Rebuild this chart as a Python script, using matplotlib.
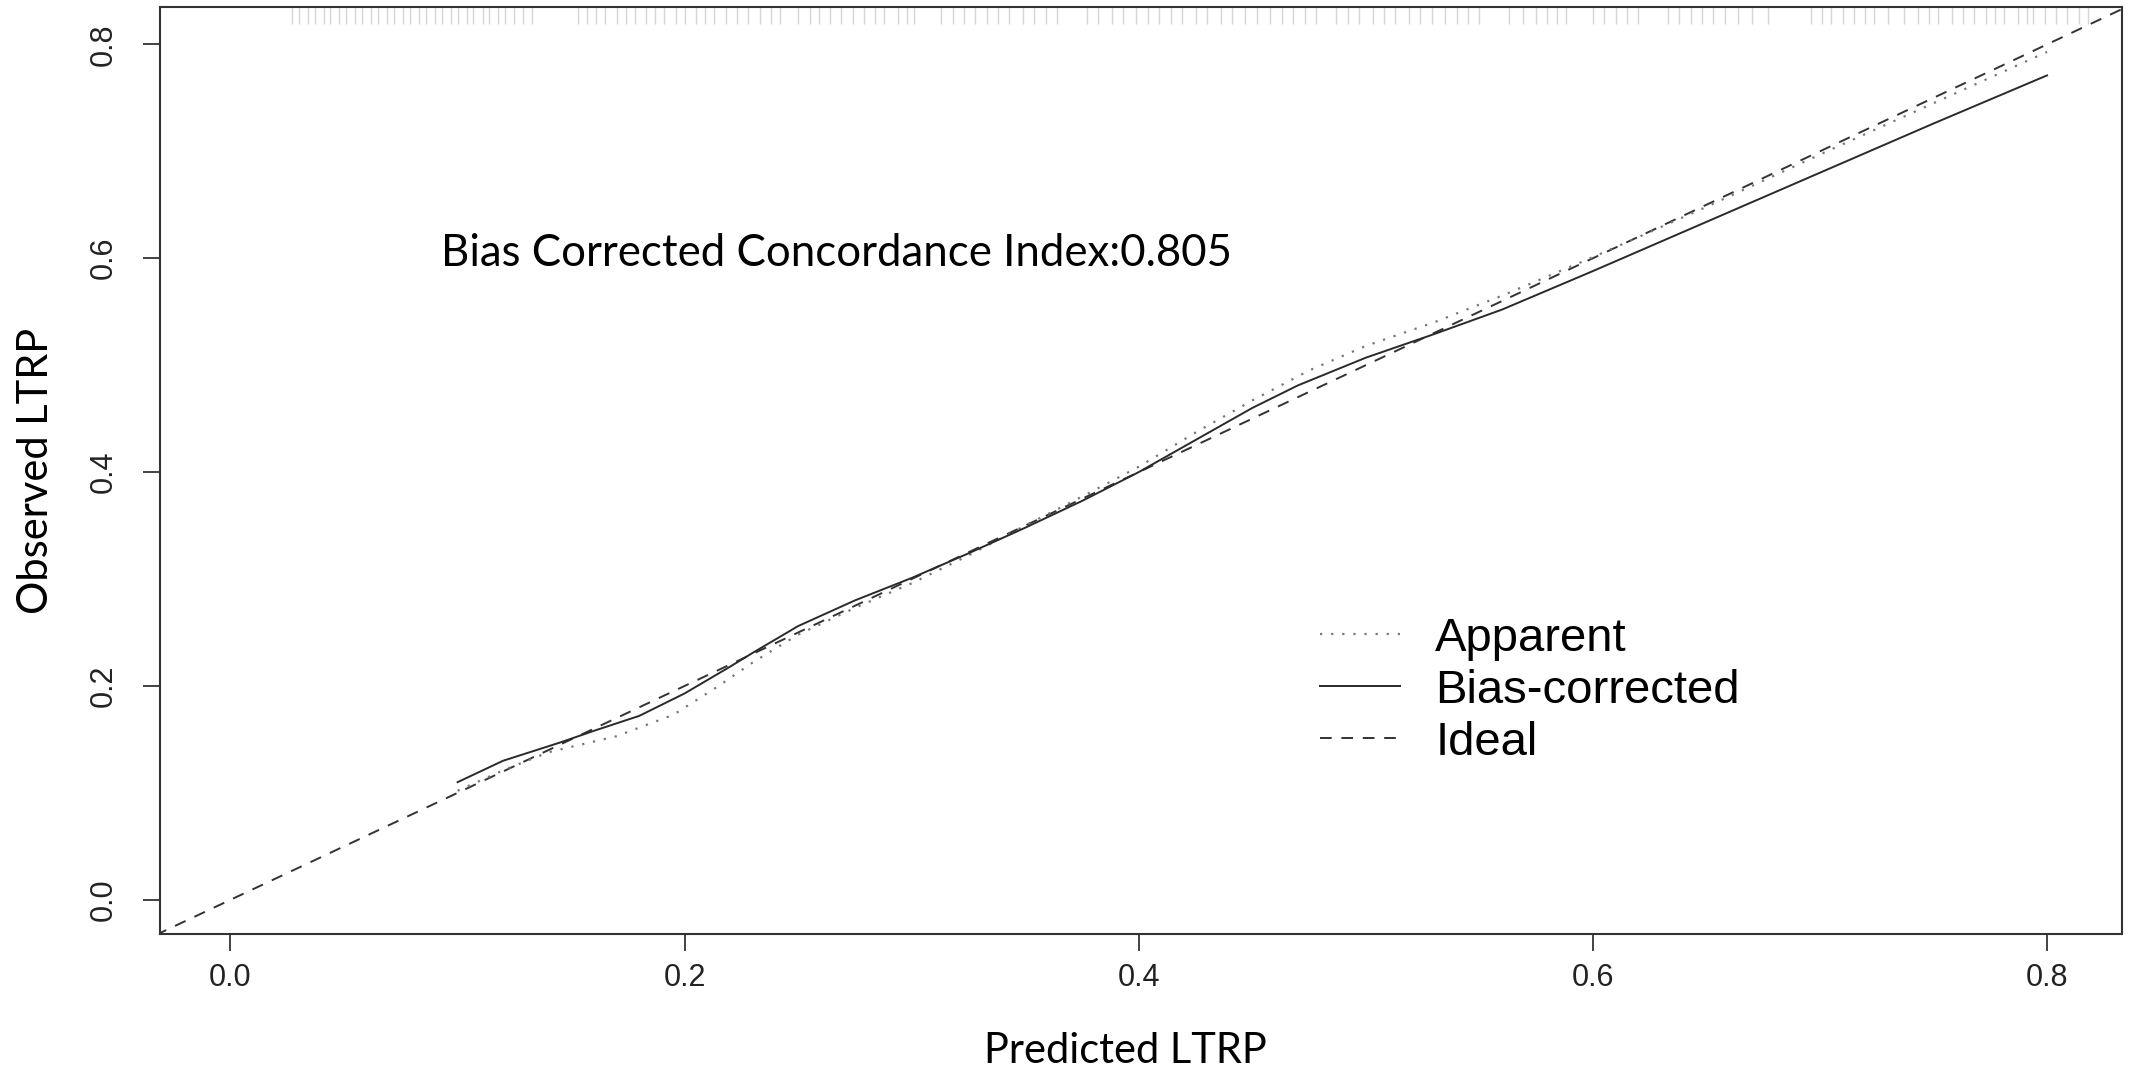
import matplotlib
matplotlib.use("Agg")
import matplotlib.pyplot as plt

# calibration curves (predicted vs observed)
bias_x = [0.100, 0.120, 0.145, 0.160, 0.180, 0.200, 0.220, 0.230, 0.250, 0.275, 0.300, 0.325, 0.350,
          0.375, 0.400, 0.425, 0.450, 0.470, 0.500, 0.530, 0.560, 0.600, 0.650, 0.700, 0.750, 0.800]
bias_y = [0.110, 0.130, 0.147, 0.158, 0.172, 0.193, 0.218, 0.231, 0.256, 0.280, 0.301, 0.324, 0.348,
          0.373, 0.400, 0.430, 0.460, 0.481, 0.507, 0.529, 0.552, 0.588, 0.634, 0.680, 0.726, 0.771]

apparent_x = [0.100, 0.120, 0.140, 0.170, 0.195, 0.215, 0.230, 0.250, 0.275, 0.300, 0.325, 0.350, 0.375,
              0.400, 0.425, 0.450, 0.475, 0.500, 0.530, 0.560, 0.600, 0.650, 0.700, 0.750, 0.800]
apparent_y = [0.102, 0.121, 0.138, 0.153, 0.173, 0.200, 0.222, 0.248, 0.273, 0.296, 0.322, 0.350, 0.377,
              0.405, 0.437, 0.467, 0.495, 0.518, 0.540, 0.565, 0.601, 0.648, 0.697, 0.745, 0.793]

ideal_x = [-0.05, 0.85]
ideal_y = [-0.05, 0.85]

# rug of predicted values along the top
rug_x = [0.027, 0.030, 0.034, 0.037, 0.041, 0.044, 0.048, 0.051, 0.055, 0.058, 0.062, 0.065, 0.069,
         0.072, 0.076, 0.079, 0.083, 0.086, 0.090, 0.093, 0.097, 0.100, 0.104, 0.107, 0.111, 0.114,
         0.118, 0.121, 0.125, 0.129, 0.133,
         0.153, 0.157, 0.161, 0.165, 0.170, 0.174, 0.178, 0.183, 0.187, 0.191, 0.196, 0.200, 0.205,
         0.209, 0.213, 0.218, 0.223, 0.228, 0.233, 0.238, 0.242,
         0.250, 0.255, 0.259, 0.264, 0.269, 0.274, 0.279, 0.284, 0.288, 0.294, 0.298, 0.301,
         0.313, 0.318, 0.323, 0.328, 0.333, 0.338, 0.343, 0.349, 0.354, 0.359, 0.364,
         0.377, 0.382, 0.388, 0.393, 0.399, 0.404, 0.409, 0.414, 0.419, 0.425, 0.430, 0.436, 0.441,
         0.447, 0.452, 0.458, 0.463, 0.468, 0.473, 0.478,
         0.487, 0.492, 0.497, 0.503, 0.508, 0.513, 0.519, 0.524, 0.529, 0.535, 0.540, 0.545, 0.550,
         0.563, 0.569, 0.575, 0.580, 0.584, 0.588, 0.600, 0.605, 0.610, 0.615, 0.620,
         0.633, 0.638, 0.643, 0.648, 0.653, 0.658, 0.664, 0.670, 0.677,
         0.696, 0.701, 0.705, 0.710, 0.715, 0.720, 0.724, 0.730, 0.737, 0.743, 0.748, 0.752,
         0.758, 0.763, 0.768, 0.773, 0.777, 0.781, 0.787, 0.791, 0.794, 0.799, 0.804, 0.809,
         0.814, 0.818]

ticks = [0.0, 0.2, 0.4, 0.6, 0.8]
tick_labels = ["0.0", "0.2", "0.4", "0.6", "0.8"]
cindex_text = "Bias Corrected Concordance Index:0.805"

tick_font = ["Liberation Sans Narrow", "Liberation Sans", "DejaVu Sans"]
label_font = ["Lato", "DejaVu Sans"]

fig = plt.figure(figsize=(21.29, 10.71), dpi=100)
ax = fig.add_axes([0.0752, 0.1279, 0.9215, 0.8656])

ax.vlines(rug_x, 0.982, 1.0, transform=ax.get_xaxis_transform(), color="#d6d6d6", lw=1.0)

ax.plot(ideal_x, ideal_y, color="#333333", lw=1.4, linestyle=(0, (6, 5)), label="Ideal")
ax.plot(apparent_x, apparent_y, color="#777777", lw=1.6, linestyle=(0, (1, 4)), label="Apparent")
ax.plot(bias_x, bias_y, color="#2a2a2a", lw=1.4, label="Bias-corrected")

ax.set_xlim(-0.031, 0.833)
ax.set_ylim(-0.032, 0.835)

ax.set_xticks(ticks)
ax.set_xticklabels(tick_labels, fontsize=22, family=tick_font)
ax.set_yticks(ticks)
ax.set_yticklabels(tick_labels, fontsize=22, family=tick_font, rotation=90, va="center")
ax.tick_params(axis="x", direction="out", length=12, width=1.2, pad=9, colors="#222222")
ax.tick_params(axis="y", direction="out", length=12, width=1.2, pad=18, colors="#222222")
for s in ax.spines.values():
    s.set_linewidth(1.5)
    s.set_color("#333333")

ax.set_xlabel("Predicted LTRP", fontsize=30, family=label_font)
ax.set_ylabel("Observed LTRP", fontsize=30, family=label_font, labelpad=24)
ax.xaxis.set_label_coords(0.492, -0.106)

ax.text(0.0926, 0.604, cindex_text, fontsize=31.5, family=label_font, ha="left", va="center")

handles, labels = ax.get_legend_handles_labels()
order = [1, 2, 0]
ax.legend([handles[i] for i in order], [labels[i] for i in order],
          loc="upper left", bbox_to_anchor=(0.591, 0.342), frameon=False,
          borderpad=0, borderaxespad=0,
          prop={"family": tick_font[1:], "size": 34}, handlelength=1.7,
          handletextpad=0.75, labelspacing=0.17)

fig.savefig("out.png", dpi=100)
